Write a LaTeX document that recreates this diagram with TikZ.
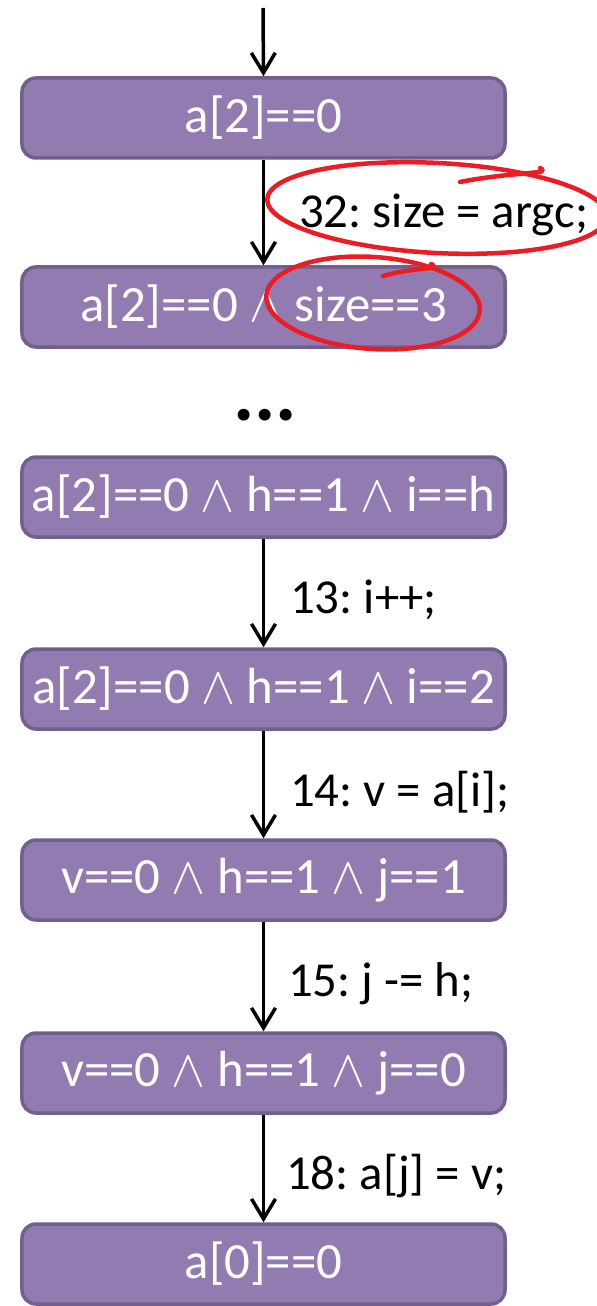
\documentclass[tikz,border=0pt]{standalone}
\usepackage{fontspec}
\setmainfont{Carlito}
\usetikzlibrary{arrows.meta}
\definecolor{boxfill}{RGB}{146,123,176}
\definecolor{boxline}{RGB}{114,95,140}
\definecolor{markred}{RGB}{237,28,36}
\newcommand{\conj}{\resizebox{34bp}{29bp}{$\wedge$}}
\frenchspacing
\begin{document}
\begin{tikzpicture}[x=1bp,y=-1bp,
  state/.style={draw=boxline, fill=boxfill, line width=3.5bp, rounded corners=14bp,
    minimum width=483bp, minimum height=80bp, text=white,
    font=\fontsize{51}{60}\selectfont, inner sep=0pt},
  flow/.style={-{Straight Barb[length=20bp,width=24bp,line width=3.5bp]}, line width=3.5bp},
  lab/.style={anchor=west, font=\fontsize{49}{60}\selectfont, inner sep=0pt},
  redring/.style={draw=markred, line width=4.5bp, line cap=round}
]
\useasboundingbox (0,0) rectangle (597,1306);
\node[state] (b1) at (263.5,118) {a[2]==0};
\node[state] (b2) at (263.5,307) {a[2]==0 \conj{} size==3};
\node[font=\bfseries\fontsize{80}{90}\selectfont, inner sep=0pt] (dots) at (265,415) {...};
\node[state] (b3) at (263.5,497) {a[2]==0 \conj{} h==1 \conj{} i==h};
\node[state] (b4) at (263.5,689) {a[2]==0 \conj{} h==1 \conj{} i==2};
\node[state] (b5) at (263.5,880) {v==0 \conj{} h==1 \conj{} j==1};
\node[state] (b6) at (263.5,1073) {v==0 \conj{} h==1 \conj{} j==0};
\node[state] (b7) at (263.5,1264) {a[0]==0};
\coordinate (start) at (263,8);
\draw[flow] (start) -- (b1.north);
\draw[flow] (b1.south) -- (b2.north);
\draw[flow] (b3.south) -- (b4.north);
\draw[flow] (b4.south) -- (b5.north);
\draw[flow] (b5.south) -- (b6.north);
\draw[flow] (b6.south) -- (b7.north);
\node[lab] (l1) at (299,215) {32: size = argc;};
\node[lab] (l2) at (290,600) {13: i++;};
\node[lab] (l3) at (290,792) {14: v = a[i];};
\node[lab] (l4) at (288,984) {15: j -= h;};
\node[lab] (l5) at (286,1176) {18: a[j] = v;};
% hand-drawn red rings
\draw[redring] (437,208) ellipse [x radius=170, y radius=45, rotate=-3];
\draw[redring] (460,182) .. controls (490,176) and (520,174) .. (540,172)
  .. controls (543,171) and (543,169) .. (540,168);
\draw[redring] (373,303) ellipse [x radius=107, y radius=46, rotate=-4];
\draw[redring] (383,276) .. controls (400,271) and (420,269) .. (431,268)
  .. controls (434,267) and (434,265) .. (431,264);
\end{tikzpicture}
\end{document}
